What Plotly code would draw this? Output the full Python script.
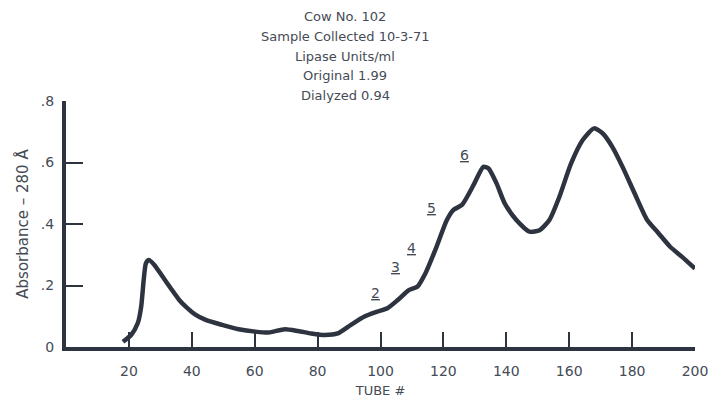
import plotly.graph_objects as go

# Elution profile: absorbance at 280 Å per tube
tube = [18.1, 20.7, 22.8, 23.9, 24.7, 25.4, 26.3, 28.1, 30.7, 33.3, 36.0, 38.5,
        41.0, 44.4, 49.6, 54.9, 60.2, 64.4, 69.6, 73.8, 78.0, 82.2, 86.4, 90.6,
        94.9, 99.0, 102.2, 105.4, 109.0, 111.7, 114.3, 117.4, 121.1, 123.2, 125.9,
        129.6, 132.7, 134.3, 136.9, 139.5, 143.2, 147.4, 150.6, 153.7, 156.9, 160.6,
        164.3, 167.9, 170.6, 173.7, 177.0, 181.0, 184.8, 188.4, 192.1, 195.8, 200.0]
absorbance = [0.017, 0.039, 0.077, 0.131, 0.218, 0.272, 0.283, 0.267, 0.229, 0.191, 0.153, 0.127,
              0.106, 0.088, 0.072, 0.058, 0.050, 0.047, 0.058, 0.052, 0.044, 0.039, 0.044, 0.072,
              0.099, 0.115, 0.126, 0.152, 0.185, 0.196, 0.240, 0.315, 0.413, 0.446, 0.462,
              0.527, 0.586, 0.581, 0.532, 0.467, 0.413, 0.375, 0.380, 0.413, 0.489, 0.597,
              0.673, 0.711, 0.695, 0.651, 0.585, 0.495, 0.413, 0.370, 0.326, 0.294, 0.255]

# Fraction markers along the rising shoulder
frac_labels = ["2", "3", "4", "5", "6"]
frac_x = [98.5, 104.8, 110.0, 116.2, 126.8]
frac_y = [0.176, 0.260, 0.322, 0.453, 0.624]

x_ticks = [20, 40, 60, 80, 100, 120, 140, 160, 180, 200]
y_ticks = [0, 0.2, 0.4, 0.6, 0.8]
y_tick_text = ["0", ".2", ".4", ".6", ".8"]

header_lines = ["Cow No. 102", "Sample Collected 10-3-71", "Lipase Units/ml",
                "Original 1.99", "Dialyzed 0.94"]

INK = "#2d3440"
TEXT = "#454b55"
FONT = "DejaVu Sans"

W, H = 715, 400
M_L, M_R, M_T, M_B = 66, 20, 101, 53
plot_w, plot_h = W - M_L - M_R, H - M_T - M_B

fig = go.Figure()
fig.add_trace(go.Scatter(
    x=tube, y=absorbance, mode="lines",
    line=dict(color=INK, width=4.5, shape="spline", smoothing=0.6),
    hoverinfo="skip", showlegend=False,
))

for lab, fx, fy in zip(frac_labels, frac_x, frac_y):
    fig.add_annotation(x=fx, y=fy, xref="x", yref="y", text="<u>" + lab + "</u>",
                       showarrow=False, font=dict(family=FONT, size=14, color=TEXT))

# Header block above the plot, one line per annotation
header_cx = 345
header_px = [17, 36.5, 56, 75.5, 95]
for line, py in zip(header_lines, header_px):
    fig.add_annotation(x=(header_cx - M_L) / plot_w, y=1 + (M_T - py) / plot_h,
                       xref="paper", yref="paper",
                       text=line, showarrow=False, xanchor="center", yanchor="middle",
                       font=dict(family=FONT, size=13, color=TEXT))

fig.update_layout(
    width=W, height=H,
    margin=dict(l=M_L, r=M_R, t=M_T, b=M_B),
    paper_bgcolor="white", plot_bgcolor="white",
    font=dict(family=FONT, color=TEXT),
    xaxis=dict(range=[0, 200], tickvals=x_ticks, ticks="inside", ticklen=15, tickwidth=2,
               tickcolor=INK, showline=True, linewidth=4, linecolor=INK, showgrid=False,
               zeroline=False, tickfont=dict(family=FONT, size=14, color=TEXT),
               ticklabelstandoff=8, automargin=False,
               title=dict(text="TUBE #", font=dict(family=FONT, size=13, color=TEXT), standoff=9)),
    yaxis=dict(range=[0, 0.8], tickvals=y_ticks, ticktext=y_tick_text, ticks="inside",
               ticklen=17, tickwidth=2, tickcolor=INK, showline=True, linewidth=4, linecolor=INK,
               showgrid=False, zeroline=False, tickfont=dict(family=FONT, size=14, color=TEXT),
               ticklabelstandoff=5, automargin=False,
               title=dict(text="Absorbance – 280 Å", font=dict(family=FONT, size=15, color=TEXT),
                          standoff=10)),
)

fig.write_html("out.html")
